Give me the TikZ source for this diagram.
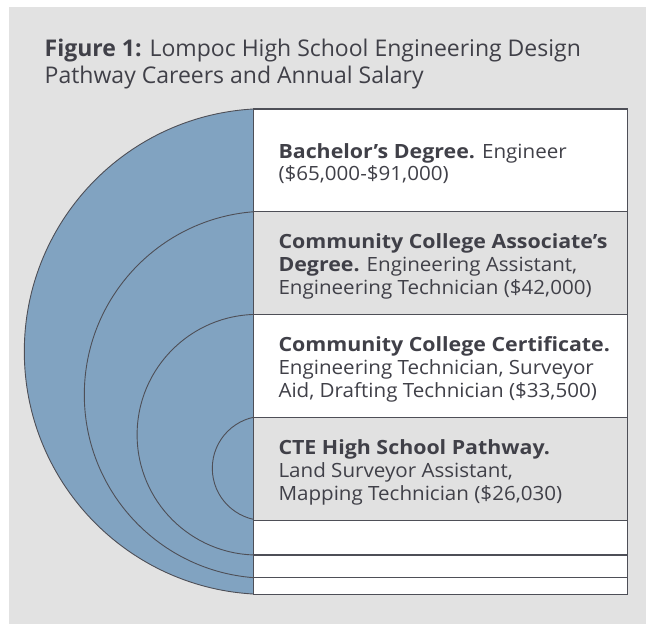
\documentclass[tikz,border=0pt]{standalone}
\usepackage{fontspec}
\setmainfont{Open Sans}
\newfontfamily\rowfont[UprightFeatures={FakeStretch=1.05},
  BoldFeatures={FakeStretch=1.09}]{Open Sans}
\begin{document}
\definecolor{inkgray}{HTML}{404048}
\definecolor{linegray}{HTML}{4E4F57}
\definecolor{rowgray}{HTML}{E1E1E1}
\definecolor{ringblue}{HTML}{81A3C1}
\definecolor{panelside}{HTML}{E2E2E2}
\definecolor{panelmid}{HTML}{F8F8F8}
\begin{tikzpicture}[x=1pt,y=-1pt,
  ring/.style={fill=ringblue,draw=linegray,line width=0.9pt},
  rowbox/.style={draw=linegray,line width=1.2pt},
  rowtext/.style={anchor=west,align=left,inner sep=0pt,text=inkgray,
    font=\rowfont\fontsize{19.6}{22.7}\selectfont},
  titletext/.style={anchor=north west,align=left,inner sep=0pt,text=inkgray,
    font=\fontsize{23}{27.5}\selectfont}]
\useasboundingbox (0,0) rectangle (646,624);
% shaded panel behind everything
\shade[left color=panelside,middle color=panelmid,right color=panelside]
  (9,7) rectangle (646,624);
% title
\node[titletext] (title) at (44.5,38.5)
  {\textbf{Figure 1:} Lompoc High School Engineering Design\\
   Pathway Careers and Annual Salary};
% nested rings, largest first
\draw[ring] (267.2,351.5) circle[radius=242.9];
\draw[ring] (267.8,394.7) circle[radius=183.5];
\draw[ring] (257.4,434.7) circle[radius=120.3];
\draw[ring] (264.5,468.3) circle[radius=52.2];
% table rows covering the right halves of the rings
\draw[rowbox,fill=white]   (253.3,109)   rectangle (627.5,211.7);
\draw[rowbox,fill=rowgray] (253.3,211.7) rectangle (627.5,314.3);
\draw[rowbox,fill=white]   (253.3,314.3) rectangle (627.5,417.3);
\draw[rowbox,fill=rowgray] (253.3,417.3) rectangle (627.5,520.3);
\draw[rowbox,fill=white]   (253.3,520.3) rectangle (627.5,555);
\draw[rowbox,fill=white]   (253.3,555)   rectangle (627.5,577.7);
\draw[rowbox,fill=white]   (253.3,577.7) rectangle (627.5,594.3);
% row labels
\node[rowtext] (bach) at (278.3,163.5)
  {\textbf{Bachelor’s Degree.} Engineer\\(\$65,000-\$91,000)};
\node[rowtext] (assoc) at (278.3,266.5)
  {\textbf{Community College Associate’s}\\
   \textbf{Degree.} Engineering Assistant,\\
   Engineering Technician (\$42,000)};
\node[rowtext] (cert) at (278.3,369.3)
  {\textbf{Community College Certificate.}\\
   Engineering Technician, Surveyor\\
   Aid, Drafting Technician (\$33,500)};
\node[rowtext] (cte) at (278.3,472.3)
  {\textbf{CTE High School Pathway.}\\
   Land Surveyor Assistant,\\
   Mapping Technician (\$26,030)};
\end{tikzpicture}
\end{document}
